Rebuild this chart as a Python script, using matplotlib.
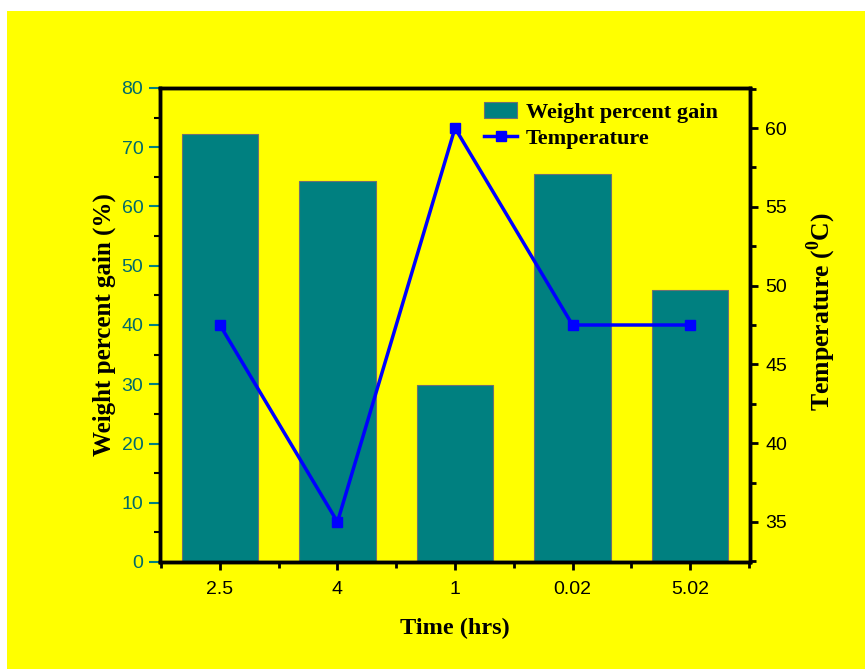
import matplotlib.pyplot as plt
from matplotlib.patches import Rectangle
from matplotlib.ticker import MultipleLocator, FixedLocator

# Data
time_labels = ['2.5', '4', '1', '0.02', '5.02']
weight_gain = [72.2, 64.3, 29.9, 65.5, 45.9]
temperature = [47.5, 35, 60, 47.5, 47.5]

teal = '#008080'
serif = 'Liberation Serif'
sans = 'Liberation Sans'
plt.rcParams['mathtext.fontset'] = 'custom'
plt.rcParams['mathtext.rm'] = 'Liberation Serif:bold'
plt.rcParams['mathtext.bf'] = 'Liberation Serif:bold'

fig = plt.figure(figsize=(8.65, 6.69), dpi=100, facecolor='white')
# yellow panel behind the chart
fig.patches.append(Rectangle((7 / 865, 0), 1 - 7 / 865, 1 - 11 / 669,
                             transform=fig.transFigure, facecolor='#ffff00',
                             edgecolor='none', zorder=-10))

ax = fig.add_axes([160 / 865, 1 - 562 / 669, 590 / 865, 474 / 669])
ax.set_facecolor('#ffff00')
x = list(range(1, len(time_labels) + 1))

bars = ax.bar(x, weight_gain, width=0.65, color=teal, edgecolor='#707070',
              linewidth=0.8, label='Weight percent gain', zorder=2)
ax.set_xlim(0.49, 5.51)
ax.set_ylim(0, 80)
ax.set_xticks(x)
ax.set_xticklabels(time_labels, fontname=sans, fontsize=14)
ax.xaxis.set_minor_locator(FixedLocator([0.5, 1.5, 2.5, 3.5, 4.5, 5.5]))
ax.yaxis.set_major_locator(MultipleLocator(10))
ax.yaxis.set_minor_locator(MultipleLocator(5))
for lbl in ax.get_yticklabels():
    lbl.set_fontname(sans)
    lbl.set_fontsize(14)
    lbl.set_color('#006a6a')
ax.tick_params(axis='y', which='major', color=teal, length=8, width=1.5, pad=4)
ax.tick_params(axis='y', which='minor', length=4, width=1.5)
ax.tick_params(axis='x', which='major', length=6, width=2, pad=8)
ax.tick_params(axis='x', which='minor', length=4, width=2)
for s in ax.spines.values():
    s.set_linewidth(2.5)

ax.set_xlabel('Time (hrs)', fontname=serif, fontweight='bold', fontsize=17.5, labelpad=14)
ax.set_ylabel('Weight percent gain (%)', fontname=serif, fontweight='bold', fontsize=18, labelpad=4)

ax2 = ax.twinx()
line, = ax2.plot(x, temperature, color='#0000ff', linewidth=2.5, marker='s',
                 markersize=7, label='Temperature', zorder=3)
ax2.set_ylim(32.46, 62.54)
ax2.yaxis.set_major_locator(MultipleLocator(5))
ax2.yaxis.set_minor_locator(MultipleLocator(2.5))
ax2.tick_params(axis='y', which='major', length=6, width=2, labelsize=14, pad=5)
ax2.tick_params(axis='y', which='minor', length=4, width=2)
for lbl in ax2.get_yticklabels():
    lbl.set_fontname(sans)
for s in ax2.spines.values():
    s.set_linewidth(2.5)
ax2.set_ylabel(r'Temperature ($^{\mathbf{0}}$C)', fontname=serif, fontweight='bold',
               fontsize=18.5)
ax2.yaxis.set_label_coords((805 - 160) / 590, (562 - 312) / 474)

leg = ax.legend([bars, line], ['Weight percent gain', 'Temperature'],
                loc='upper left', bbox_to_anchor=(0.515, 1.012), frameon=False,
                prop={'family': serif, 'weight': 'bold', 'size': 16},
                handlelength=1.5, handletextpad=0.4, labelspacing=0.25)

fig.savefig('out.png', dpi=100, facecolor=fig.get_facecolor())
